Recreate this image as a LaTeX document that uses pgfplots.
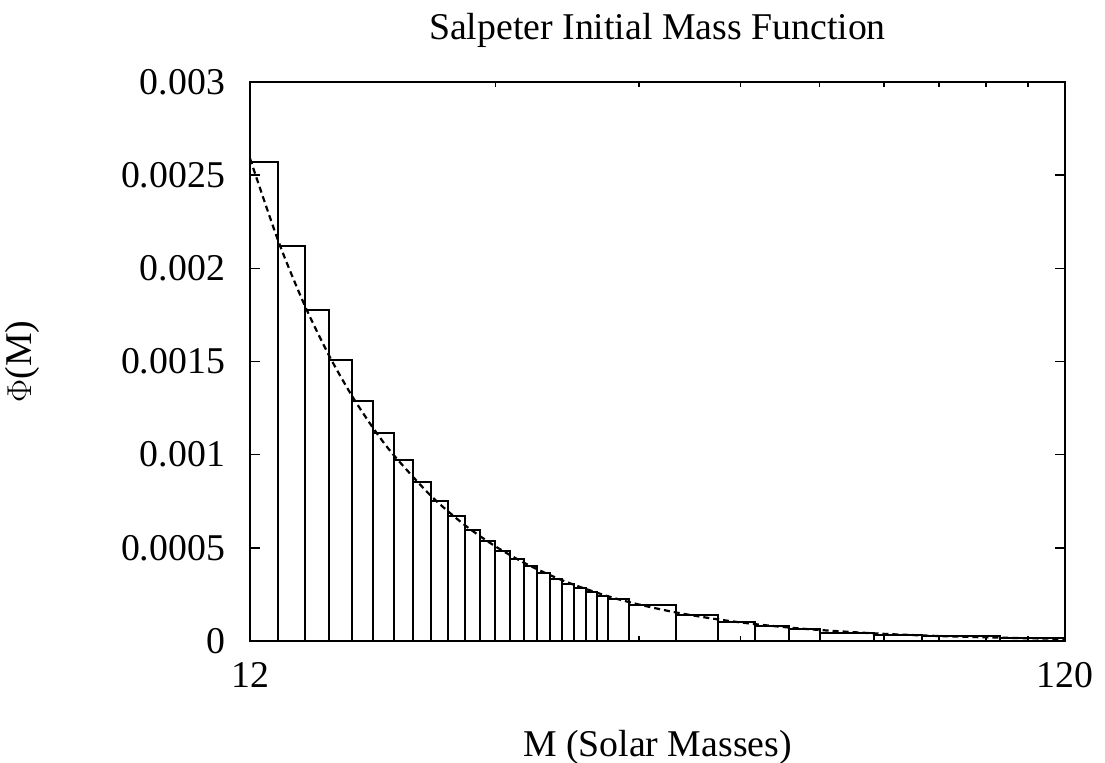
\documentclass[border=0pt]{standalone}
\usepackage{pgfplots}
\pgfplotsset{compat=1.18}
\usepackage{fontspec}
\setmainfont{Liberation Serif}
\begin{document}
\fontsize{18.9}{22}\selectfont
\begin{tikzpicture}
\useasboundingbox (-125pt,-60.5pt) rectangle (427.5pt,320.5pt);
\begin{axis}[
  scale only axis,
  width=407.5pt, height=279.5pt,
  xmode=log, xmin=12, xmax=120,
  ymin=0, ymax=0.003,
  xtick={12,120}, xticklabels={12,120},
  minor xtick={24,36,48,60,72,84,96,108},
  ytick={0,0.0005,0.001,0.0015,0.002,0.0025,0.003},
  yticklabels={0,0.0005,0.001,0.0015,0.002,0.0025,0.003},
  scaled y ticks=false,
  tick align=inside,
  major tick length=5pt, minor tick length=2.5pt,
  every tick/.style={black, line width=0.8pt},
  axis line style={line width=1pt},
  tick label style={font=\fontsize{18.9}{22}\selectfont},
  xticklabel style={yshift=-4pt},
  yticklabel style={xshift=-6pt},
  every axis title/.style={at={(axis description cs:0.5,1)}, anchor=center, yshift=26pt, font=\fontsize{18.9}{22}\selectfont},
  title={Salpeter Initial Mass Function},
  xlabel={M (Solar Masses)},
  ylabel={$\Phi$(M)},
  every axis x label/.style={at={(axis description cs:0.5,0)}, anchor=center, yshift=-53pt, font=\fontsize{18.9}{22}\selectfont},
  every axis y label/.style={at={(axis description cs:0,0.5)}, anchor=center, xshift=-114pt, rotate=90, font=\fontsize{18.9}{22}\selectfont},
  axis on top,
]
\addplot[ybar interval, fill=white, draw=black, line width=1pt] coordinates {
(12,0.002572) (13,0.002122) (14,0.001776) (15,0.00151) (16,0.00129)
(17,0.001116) (18,0.000971) (19,0.000853) (20,0.000753) (21,0.000671)
(22,0.000597) (23,0.000537) (24,0.000485) (25,0.00044) (26,0.0004)
(27,0.000365) (28,0.000334) (29,0.000306) (30,0.000283) (31,0.000261)
(32,0.000242) (33,0.000225) (35,0.000193) (40,0.00014) (45,0.000104)
(50,0.0000805) (55,0.0000626) (60,0.0000447) (70,0.0000322) (80,0.0000275)
(100,0.0000145) (120,0.0000145)
};
\addplot[black, line width=1.1pt, dash pattern=on 3pt off 2pt, smooth] coordinates {
(12,0.002590) (13,0.002146) (14,0.001803) (15,0.001533) (16,0.001317)
(17,0.001142) (18,0.000999) (20,0.000780) (22,0.000623) (24,0.000508)
(26,0.000421) (28,0.000354) (30,0.000301) (33,0.000240) (36,0.000196)
(40,0.000153) (45,0.000116) (50,0.0000905) (55,0.0000724) (60,0.0000590)
(70,0.0000410) (80,0.0000300) (90,0.0000227) (100,0.0000178) (110,0.0000142)
(120,0.0000116)
};
\end{axis}
\end{tikzpicture}
\end{document}
